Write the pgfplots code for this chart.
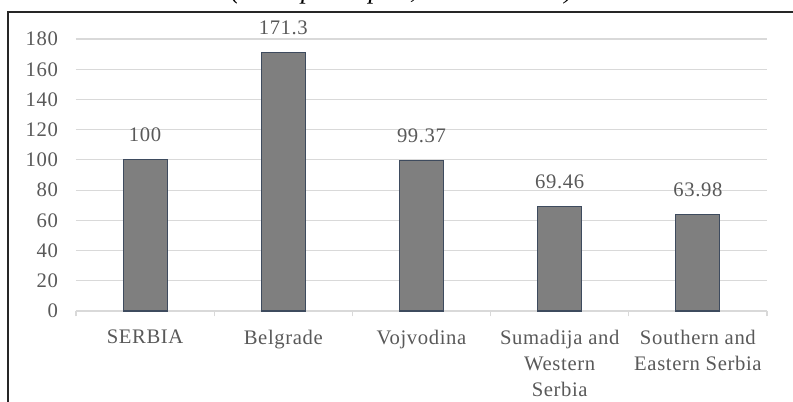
\documentclass[border=0pt]{standalone}
\usepackage{fontspec}
\setmainfont{Liberation Serif}[LetterSpace=3]
\usepackage{pgfplots}
\pgfplotsset{compat=1.18}
\definecolor{txtGray}{HTML}{595959}
\definecolor{gridGray}{HTML}{D9D9D9}
\definecolor{barFill}{HTML}{7F7F7F}
\definecolor{barEdge}{HTML}{3E4B5E}
\definecolor{frameInk}{HTML}{262626}
\begin{document}
\begin{tikzpicture}
  % page is 793 x 401 px, 1 px = 0.75pt, origin at top left
  \begin{axis}[
    at={(57pt,-233.25pt)}, anchor=south west,
    scale only axis,
    width=518.25pt, height=204pt,
    xmin=-0.5, xmax=4.5,
    ymin=0, ymax=180,
    ytick={0,20,...,180},
    xtick={-0.5,0.5,...,4.5},
    x tick label as interval,
    xticklabels={SERBIA,Belgrade,Vojvodina,{Sumadija and\\Western\\Serbia},{Southern and\\Eastern Serbia}},
    axis lines*=left,
    x axis line style={draw=gridGray, line width=0.9pt, -},
    y axis line style={draw=none},
    xtick style={draw=gridGray, line width=0.9pt},
    ytick style={draw=none},
    tick align=outside,
    major tick length=4pt,
    ymajorgrids,
    major grid style={draw=gridGray, line width=0.9pt},
    tick label style={font=\fontsize{15.5}{19.5}\selectfont, text=txtGray},
    x tick label style={align=center, anchor=north, yshift=-6.5pt},
    y tick label style={anchor=east, xshift=-6pt},
    /pgf/number format/assume math mode=true,
    clip=false,
    ybar, bar width=33pt,
    nodes near coords,
    point meta=explicit symbolic,
    nodes near coords style={font=\fontsize{15.5}{19.5}\selectfont, text=txtGray, anchor=base, yshift=13.5pt},
  ]
    \addplot[fill=barFill, draw=barEdge, line width=0.8pt] coordinates {
      (0,100)[100] (1,171.3)[171.3] (2,99.37)[99.37] (3,69.46)[69.46] (4,63.98)[63.98]
    };
  \end{axis}
  % title, mostly cut off by the top edge of the page
  \node[anchor=base, font=\fontsize{20}{24}\selectfont\itshape\addfontfeatures{LetterSpace=0}]
    at (301.5pt,1pt) {(GDP per capita, Serbia = 100)};
  % frame
  \draw[frameInk, line width=1.5pt] (6pt,-310pt) -- (6pt,-9pt) -- (600pt,-9pt);
  \pgfresetboundingbox
  \useasboundingbox (0,0) rectangle (594.75pt,-300.75pt);
\end{tikzpicture}
\end{document}
